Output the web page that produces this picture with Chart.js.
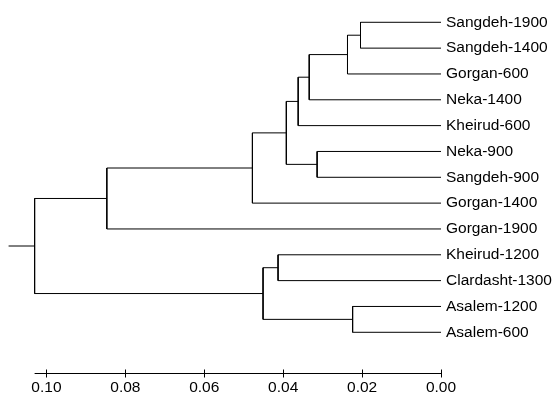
<!DOCTYPE html>
<html>
<head>
<meta charset="utf-8">
<script src="https://cdn.jsdelivr.net/npm/chart.js@4"></script>
<style>
  html, body { margin: 0; padding: 0; background: #fff; }
  canvas { display: block; }
</style>
</head>
<body>
<canvas id="c" width="556" height="396"></canvas>
<script>
// ---- Data ----
const leaves = [
  'Sangdeh-1900', 'Sangdeh-1400', 'Gorgan-600', 'Neka-1400', 'Kheirud-600',
  'Neka-900', 'Sangdeh-900', 'Gorgan-1400', 'Gorgan-1900', 'Kheirud-1200',
  'Clardasht-1300', 'Asalem-1200', 'Asalem-600'
];
// Merge steps: indices < 13 are leaves, 13+k is the cluster formed at step k
const mergeLeft   = [0, 13, 14, 15, 5, 16, 18, 19, 9, 11, 21, 20];
const mergeRight  = [1, 2, 3, 4, 6, 17, 7, 8, 10, 12, 22, 23];
const mergeHeight = [0.0204, 0.0237, 0.0334, 0.0362, 0.0314, 0.0392, 0.0478, 0.0847, 0.0413, 0.0224, 0.0451, 0.1030];
const rootTail = 0.0066;
const xTicks = [0.10, 0.08, 0.06, 0.04, 0.02, 0.00];
const xTickLabels = ['0.10', '0.08', '0.06', '0.04', '0.02', '0.00'];

// ---- Build segments ----
const nodeY = leaves.map((_, i) => i);
const nodeH = leaves.map(() => 0);
const datasets = [];
for (let k = 0; k < mergeLeft.length; k++) {
  const a = mergeLeft[k], b = mergeRight[k], h = mergeHeight[k];
  const ya = nodeY[a], yb = nodeY[b];
  datasets.push({
    data: [{x: nodeH[a], y: ya}, {x: h, y: ya}, {x: h, y: yb}, {x: nodeH[b], y: yb}]
  });
  nodeY.push((ya + yb) / 2);
  nodeH.push(h);
}
const rootIdx = nodeY.length - 1;
const rootH = nodeH[rootIdx];
datasets.push({
  data: [{x: rootH, y: nodeY[rootIdx]}, {x: rootH + rootTail, y: nodeY[rootIdx]}]
});
datasets.forEach(d => Object.assign(d, {
  showLine: true, borderColor: '#000', borderWidth: 1, pointRadius: 0,
  fill: false, tension: 0, clip: false
}));

const FONT = "'Liberation Sans', Arial, sans-serif";

const axisPlugin = {
  id: 'axisLine',
  afterDatasetsDraw(chart) {
    const ctx = chart.ctx;
    const xs = chart.scales.x;
    const y = chart.chartArea.bottom + 0.5;
    ctx.save();
    ctx.strokeStyle = '#000';
    ctx.lineWidth = 1;
    ctx.beginPath();
    ctx.moveTo(xs.getPixelForValue(rootH), y);
    ctx.lineTo(xs.getPixelForValue(0), y);
    xTicks.forEach(v => {
      const px = Math.round(xs.getPixelForValue(v)) + 0.5;
      ctx.moveTo(px, y - 4);
      ctx.lineTo(px, y + 4);
    });
    ctx.stroke();
    ctx.restore();
  }
};

new Chart(document.getElementById('c'), {
  type: 'scatter',
  data: { datasets },
  plugins: [axisPlugin],
  options: {
    responsive: false,
    animation: false,
    layout: { padding: { left: 7, top: 0, right: 0, bottom: 0 } },
    plugins: { legend: { display: false }, tooltip: { enabled: false } },
    scales: {
      x: {
        type: 'linear', reverse: true, min: 0, max: 0.11, position: 'bottom',
        grid: { display: false, drawTicks: false },
        border: { display: false },
        afterBuildTicks: s => { s.ticks = xTicks.map(v => ({ value: v })); },
        afterFit: s => { s.height = 23; s.paddingLeft = 0; s.paddingRight = 0; },
        ticks: {
          color: '#000', padding: 5, maxRotation: 0, autoSkip: false,
          font: { family: FONT, size: 15.5 },
          callback: (v) => xTickLabels[xTicks.findIndex(t => Math.abs(t - v) < 1e-9)]
        }
      },
      y: {
        type: 'linear', reverse: true, min: -0.863, max: 13.576, position: 'right',
        grid: { display: false, drawTicks: false },
        border: { display: false },
        afterBuildTicks: s => { s.ticks = leaves.map((_, i) => ({ value: i })); },
        afterFit: s => { s.width = 115; s.paddingTop = 0; s.paddingBottom = 0; },
        ticks: {
          color: '#000', padding: 5, autoSkip: false,
          font: { family: FONT, size: 15.5 },
          callback: (v) => leaves[v]
        }
      }
    }
  }
});
</script>
</body>
</html>
